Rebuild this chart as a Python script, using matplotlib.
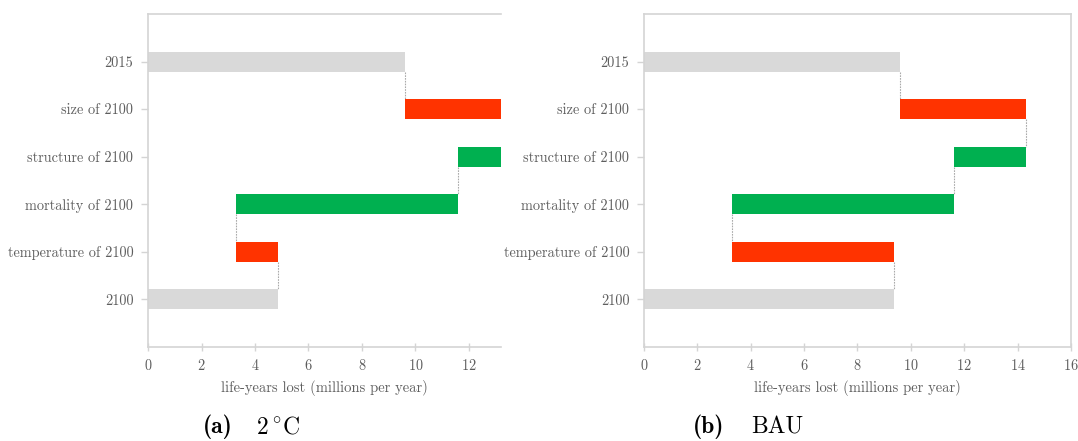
import numpy as np
import matplotlib.pyplot as plt

# waterfall steps, top to bottom
labels = ['2015', 'size of 2100', 'structure of 2100', 'mortality of 2100',
          'temperature of 2100', '2100']
kinds = ['total', 'up', 'down', 'down', 'up', 'total']

# start / end of each bar (millions of life-years lost per year)
start_2c = [0.0, 9.6, 14.3, 11.6, 3.3, 0.0]
end_2c = [9.6, 14.3, 11.6, 3.3, 4.87, 4.87]
start_bau = [0.0, 9.6, 14.3, 11.6, 3.3, 0.0]
end_bau = [9.6, 14.3, 11.6, 3.3, 9.35, 9.35]

xticks_2c = [0, 2, 4, 6, 8, 10, 12]
xticks_bau = [0, 2, 4, 6, 8, 10, 12, 14, 16]

colors = {'total': '#d9d9d9', 'up': '#ff3300', 'down': '#00b050'}
spine_c = '#d4d4d4'
text_c = '#5e5e5e'

plt.rcParams['font.family'] = ['cmr10', 'DejaVu Serif']
plt.rcParams['axes.formatter.use_mathtext'] = True
plt.rcParams['mathtext.fontset'] = 'cm'

fig = plt.figure(figsize=(10.78, 4.41), dpi=100)
ax1 = fig.add_axes([0.1373, 0.2132, 0.3275, 0.7551])
ax2 = fig.add_axes([0.5974, 0.2132, 0.3961, 0.7551])


def waterfall(ax, s, e, xmax, xticks, right_spine):
    y = np.arange(len(labels))
    h = 0.42
    for i in range(len(labels)):
        lo, hi = min(s[i], e[i]), max(s[i], e[i])
        ax.barh(y[i], hi - lo, left=lo, height=h, color=colors[kinds[i]],
                edgecolor='none', zorder=2)
    # dotted connectors between consecutive bars
    for i in range(len(labels) - 1):
        ax.plot([e[i], e[i]], [y[i] + h / 2, y[i + 1] - h / 2],
                color='#aaaaaa', lw=0.8, ls=(0, (1.5, 1.0)), zorder=1)
    ax.set_ylim(len(labels), -1)
    ax.set_xlim(0, xmax)
    ax.set_yticks(y)
    ax.set_yticklabels(labels)
    ax.set_xticks(xticks)
    for sp in ['left', 'bottom', 'top', 'right']:
        ax.spines[sp].set_color(spine_c)
        ax.spines[sp].set_linewidth(1.2)
    ax.spines['right'].set_visible(right_spine)
    ax.tick_params(axis='y', length=5, width=1, color=spine_c,
                   labelsize=10.3, labelcolor=text_c, pad=5.5)
    ax.tick_params(axis='x', direction='inout', length=6, width=1,
                   color=spine_c, labelsize=10.3, labelcolor=text_c, pad=5)
    ax.set_xlabel('life-years lost (millions per year)', fontsize=10.5,
                  color=text_c, labelpad=5)


waterfall(ax1, start_2c, end_2c, 13.2, xticks_2c, False)
waterfall(ax2, start_bau, end_bau, 16, xticks_bau, True)

fig.text(0.188, 0.018, '(a)', fontsize=17, family='cmb10', ha='left')
fig.text(0.2375, 0.018, r'2$\,^{\circ}$C', fontsize=17, ha='left')
fig.text(0.643, 0.018, '(b)', fontsize=17, family='cmb10', ha='left')
fig.text(0.697, 0.018, 'BAU', fontsize=17, ha='left')

fig.savefig('out.png', dpi=100)
